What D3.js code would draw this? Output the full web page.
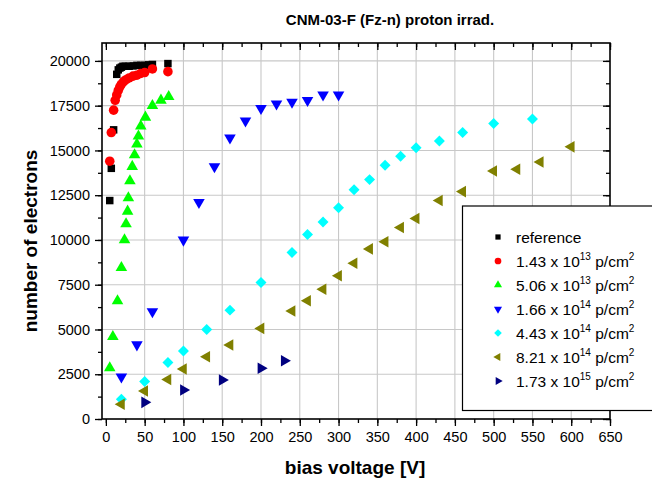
<!DOCTYPE html>
<html><head><meta charset="utf-8">
<script src="https://cdn.jsdelivr.net/npm/d3@7"></script>
<style>body{margin:0;background:#fff}svg{display:block}text{font-family:"Liberation Sans",Arial,sans-serif}</style>
</head><body>
<svg id="c" width="652" height="479"></svg>
<script>
const refV = [5, 7, 10, 14, 16, 18, 20, 22, 25, 30, 35, 40, 45, 50, 55, 60, 80];
const refN = [12200, 14000, 16150, 19250, 19500, 19600, 19650, 19700, 19700, 19700, 19720, 19750, 19750, 19750, 19780, 19800, 19850];
const s1V = [5, 7, 10, 12, 14, 16, 18, 20, 23, 26, 30, 35, 40, 45, 50, 60, 80];
const s1N = [14400, 16000, 17250, 17800, 18100, 18350, 18550, 18700, 18850, 18950, 19050, 19150, 19200, 19300, 19350, 19550, 19400];
const s2V = [5, 9, 15, 20, 24, 26, 28, 29, 31, 34, 37, 40, 42, 45, 51, 60, 71, 81];
const s2N = [2850, 4600, 6600, 8450, 10000, 10900, 11600, 12350, 13300, 14100, 14750, 15350, 15800, 16350, 16850, 17500, 17800, 18000];
const s3V = [20, 40, 60, 100, 120, 140, 160, 180, 200, 220, 240, 260, 280, 300];
const s3N = [2350, 4150, 6000, 10000, 12100, 14100, 15700, 16650, 17350, 17600, 17700, 17800, 18100, 18100];
const s4V = [20, 50, 80, 100, 130, 160, 200, 240, 260, 280, 300, 320, 340, 360, 380, 400, 430, 460, 500, 550];
const s4N = [1100, 2100, 3150, 3800, 5000, 6080, 7620, 9300, 10300, 11000, 11800, 12800, 13370, 14170, 14670, 15150, 15530, 16000, 16500, 16750];
const s5V = [20, 50, 80, 100, 130, 160, 200, 240, 260, 280, 300, 320, 340, 360, 380, 400, 430, 460, 500, 530, 560, 600];
const s5N = [820, 1560, 2210, 2790, 3480, 4130, 5060, 6030, 6600, 7250, 8000, 8700, 9500, 9900, 10700, 11200, 12200, 12700, 13850, 13950, 14350, 15200];
const s6V = [50, 100, 150, 200, 230];
const s6N = [930, 1620, 2180, 2830, 3250];

const xTicks = d3.range(0, 651, 50);
const yTicks = d3.range(0, 20001, 2500);
const titleText = "CNM-03-F (Fz-n) proton irrad.";
const xTitle = "bias voltage [V]";
const yTitle = "number of electrons";

const series = [
  {name:"reference", exp:null, V:refV, N:refN, color:"#000000", shape:"square"},
  {name:"1.43 x 10", exp:"13", V:s1V, N:s1N, color:"#ff0000", shape:"circle"},
  {name:"5.06 x 10", exp:"13", V:s2V, N:s2N, color:"#00ff00", shape:"up"},
  {name:"1.66 x 10", exp:"14", V:s3V, N:s3N, color:"#0000ff", shape:"down"},
  {name:"4.43 x 10", exp:"14", V:s4V, N:s4N, color:"#00ffff", shape:"diamond"},
  {name:"8.21 x 10", exp:"14", V:s5V, N:s5N, color:"#808000", shape:"left"},
  {name:"1.73 x 10", exp:"15", V:s6V, N:s6N, color:"#000080", shape:"right"}
];

const L = 102, R = 610, T = 43, B = 419;
const x = d3.scaleLinear().domain([-5, 650]).range([L, R]);
const y = d3.scaleLinear().domain([0, 21000]).range([B, T]);
const svg = d3.select("#c");

// grid
const g = svg.append("g");
g.selectAll(".gx").data(xTicks.filter(v=>v>0 && v<650)).enter().append("line")
  .attr("x1", d=>x(d)).attr("x2", d=>x(d)).attr("y1", T).attr("y2", B)
  .attr("stroke", "#c8c8c8").attr("stroke-width", 1.1);
g.selectAll(".gy").data(yTicks.filter(v=>v>0)).enter().append("line")
  .attr("y1", d=>y(d)).attr("y2", d=>y(d)).attr("x1", L).attr("x2", R)
  .attr("stroke", "#c8c8c8").attr("stroke-width", 1.1);

// axes
function styleAxis(sel){
  sel.select(".domain").remove();
  sel.selectAll("line").attr("stroke", "#000").attr("stroke-width", 1.3);
  sel.selectAll("text").attr("font-size", "14.5px").attr("fill", "#000");
}
const xMinor = d3.range(0, 651, 25);
const yMinor = d3.range(0, 21001, 1250);
svg.append("g").attr("transform", `translate(0,${B})`)
  .call(d3.axisBottom(x).tickValues(xMinor).tickSize(4).tickFormat("")).call(styleAxis);
svg.append("g").attr("transform", `translate(0,${B})`)
  .call(d3.axisBottom(x).tickValues(xTicks).tickSize(7).tickPadding(6).tickFormat(d3.format("d"))).call(styleAxis);
svg.append("g").attr("transform", `translate(0,${T})`)
  .call(d3.axisBottom(x).tickValues(xMinor).tickSize(4).tickFormat("")).call(styleAxis);
svg.append("g").attr("transform", `translate(0,${T})`)
  .call(d3.axisBottom(x).tickValues(xTicks).tickSize(7).tickFormat("")).call(styleAxis);
svg.append("g").attr("transform", `translate(${L},0)`)
  .call(d3.axisLeft(y).tickValues(yMinor.filter(v=>v<=20000)).tickSize(4).tickFormat("")).call(styleAxis);
svg.append("g").attr("transform", `translate(${L},0)`)
  .call(d3.axisLeft(y).tickValues(yTicks).tickSize(7).tickPadding(5).tickFormat(d3.format("d"))).call(styleAxis);
svg.append("g").attr("transform", `translate(${R},0)`)
  .call(d3.axisLeft(y).tickValues(yMinor.filter(v=>v<=20000)).tickSize(4).tickFormat("")).call(styleAxis);
svg.append("g").attr("transform", `translate(${R},0)`)
  .call(d3.axisLeft(y).tickValues(yTicks).tickSize(7).tickFormat("")).call(styleAxis);
svg.append("rect").attr("x", L).attr("y", T).attr("width", R-L).attr("height", B-T)
  .attr("fill", "none").attr("stroke", "#000").attr("stroke-width", 1.6);

// markers
function symPath(shape, scale){
  const k = scale || 1;
  switch(shape){
    case "square": return {d:d3.symbol(d3.symbolSquare, 56*k*k)(), rot:0};
    case "circle": return {d:d3.symbol(d3.symbolCircle, 72*k*k)(), rot:0};
    case "diamond": return {d:d3.symbol(d3.symbolSquare, 60*k*k)(), rot:45};
    case "up": return {d:d3.symbol(d3.symbolTriangle, 58*k*k)(), rot:0};
    case "down": return {d:d3.symbol(d3.symbolTriangle, 58*k*k)(), rot:180};
    case "left": return {d:d3.symbol(d3.symbolTriangle, 58*k*k)(), rot:-90};
    case "right": return {d:d3.symbol(d3.symbolTriangle, 58*k*k)(), rot:90};
  }
}
const pts = svg.append("g");
series.forEach(s=>{
  const sp = symPath(s.shape);
  const data = s.V.map((v,i)=>({v, n:s.N[i]}));
  pts.append("g").selectAll("path").data(data).enter().append("path")
    .attr("d", sp.d)
    .attr("transform", d=>`translate(${x(d.v)},${y(d.n)}) rotate(${sp.rot})`)
    .attr("fill", s.color);
});

// legend
const lg = svg.append("g");
lg.append("rect").attr("x", 462.5).attr("y", 206).attr("width", 200).attr("height", 204.5)
  .attr("fill", "#fff").attr("stroke", "#000").attr("stroke-width", 1.2);
series.forEach((s,i)=>{
  const cy = 237 + i*24;
  const sp = symPath(s.shape, 0.7);
  lg.append("path").attr("d", sp.d).attr("transform", `translate(498,${cy}) rotate(${sp.rot})`).attr("fill", s.color);
  const t = lg.append("text").attr("x", 516).attr("y", cy + 5.5).attr("font-size", "15.5px").attr("fill", "#000");
  if (s.exp == null){ t.text(s.name); }
  else {
    t.append("tspan").text(s.name);
    t.append("tspan").attr("dy", -7).attr("font-size", "10px").text(s.exp);
    t.append("tspan").attr("dy", 7).text(" p/cm");
    t.append("tspan").attr("dy", -7).attr("font-size", "10px").text("2");
  }
});

// titles
svg.append("text").attr("x", 390).attr("y", 25).attr("text-anchor", "middle")
  .attr("font-weight", "bold").attr("font-size", "15px").text(titleText);
svg.append("text").attr("x", 355).attr("y", 474).attr("text-anchor", "middle")
  .attr("font-weight", "bold").attr("font-size", "19px").text(xTitle);
svg.append("text").attr("transform", "translate(37,241) rotate(-90)").attr("text-anchor", "middle")
  .attr("font-weight", "bold").attr("font-size", "19px").text(yTitle);
</script>
</body></html>
